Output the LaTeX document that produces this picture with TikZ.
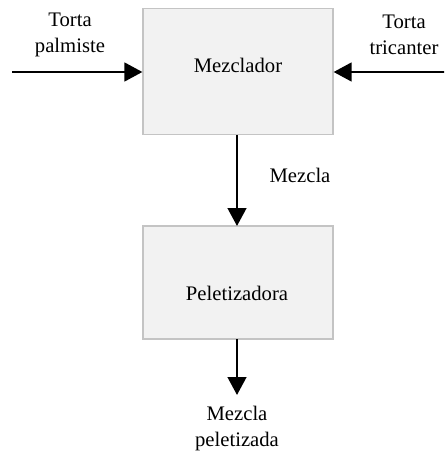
\documentclass[tikz,border=0pt]{standalone}
\usepackage{fontspec}
\setmainfont{Liberation Serif}
\usetikzlibrary{arrows.meta}
\definecolor{boxfill}{HTML}{F2F2F2}
\definecolor{boxline}{HTML}{C4C4C4}
\begin{document}
\begin{tikzpicture}[x=0.75pt,y=-0.75pt,
  procbox/.style={draw=boxline,fill=boxfill,line width=0.9pt,minimum width=142.5pt,inner sep=0pt,
    font=\fontsize{15.5}{19.5}\selectfont},
  lbl/.style={align=center,inner sep=0pt,font=\fontsize{15.5}{19.5}\selectfont},
  flow/.style={line width=1.9pt,-{Triangle[length=13.5pt,width=14pt]}}]
\useasboundingbox (0,0) rectangle (444,452);
\clip (0,0) rectangle (444,452);
% process blocks
\node[procbox,minimum height=95pt] (mix) at (238,71.5) {};
\node[lbl] at (238,65) {Mezclador};
\node[procbox,minimum height=84.75pt] (pel) at (238,282.5) {};
\node[lbl] (peltxt) at (237,293) {Peletizadora};
% inputs and outputs
\coordinate (inL) at (12,72);
\coordinate (inR) at (446,72);
\coordinate (out) at (237,395);
\node[lbl] (tp) at (70,35) {Torta\\palmiste};
\node[lbl] (tt) at (404,35) {Torta\\tricanter};
\node[lbl] (mz) at (300,175) {Mezcla};
\node[lbl] (mp) at (237,429) {Mezcla\\peletizada};
% flows
\draw[flow] (inL) -- (inL -| mix.west);
\draw[flow] (inR) -- (inR -| mix.east);
\draw[flow] (237,135) -- (237,226);
\draw[flow] (237,339) -- (out);
\end{tikzpicture}
\end{document}
